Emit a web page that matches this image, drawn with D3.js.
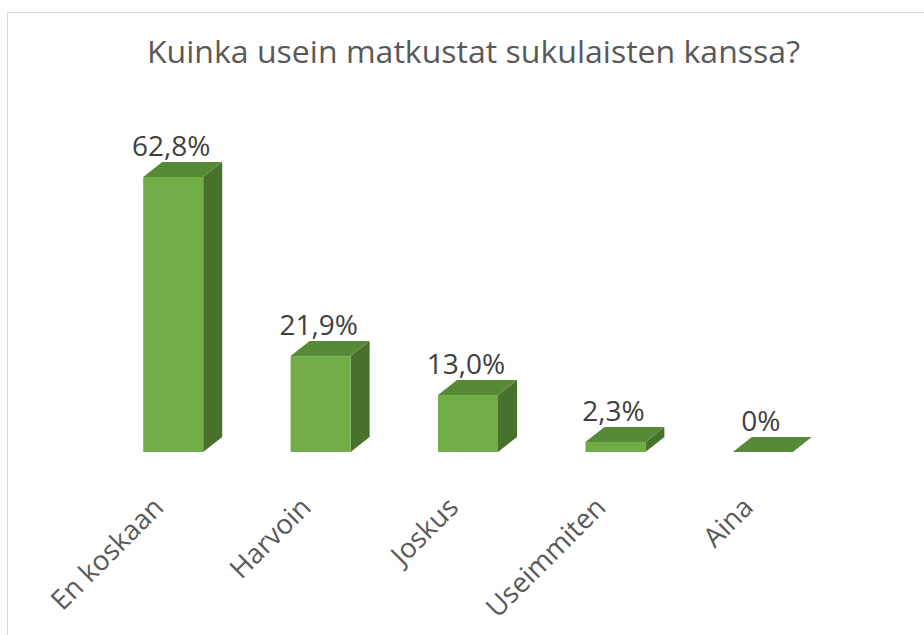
<!DOCTYPE html>
<html>
<head>
<meta charset="utf-8">
<script src="https://cdn.jsdelivr.net/npm/d3@7"></script>
<style>
  html, body { margin: 0; padding: 0; background: #ffffff; }
  svg { display: block; }
</style>
</head>
<body>
<script>
// ---- data ----
const title = "Kuinka usein matkustat sukulaisten kanssa?";
const categories = ["En koskaan", "Harvoin", "Joskus", "Useimmiten", "Aina"];
const values = [62.8, 21.9, 13.0, 2.3, 0];
const valueLabels = ["62,8%", "21,9%", "13,0%", "2,3%", "0%"];
const yDomain = [0, 70];

// ---- layout ----
const W = 924, H = 635;
const depthX = 19, depthY = 15;
const baseY = 452;

const svg = d3.select("body").append("svg")
  .attr("width", W).attr("height", H);

svg.append("rect").attr("width", W).attr("height", H).attr("fill", "#fff");

// chart area border (extends past the right and bottom edges)
svg.append("rect")
  .attr("x", 7.5).attr("y", 12.5)
  .attr("width", W + 20).attr("height", H + 20)
  .attr("fill", "none").attr("stroke", "#d9d9d9").attr("stroke-width", 1);

const x = d3.scaleBand()
  .domain(categories)
  .range([99.5, 836.5])
  .paddingInner(0.593)
  .paddingOuter(0.2965);

const y = d3.scaleLinear().domain(yDomain).range([baseY, baseY - 70 * 4.379]);

const font = "'Open Sans', 'Noto Sans', sans-serif";

// title
svg.append("text")
  .attr("x", 473.5).attr("y", 63)
  .attr("text-anchor", "middle")
  .attr("font-family", font)
  .attr("font-size", 31)
  .attr("textLength", 653)
  .attr("lengthAdjust", "spacingAndGlyphs")
  .attr("fill", "#595959")
  .text(title);

const data = categories.map((c, i) => ({ c, v: values[i], label: valueLabels[i] }));

const g = svg.append("g");

data.forEach(d => {
  const x0 = x(d.c), w = x.bandwidth();
  const x1 = x0 + w;
  const yt = y(d.v), yb = y(0);
  const bar = g.append("g");
  if (yb - yt > 0.5) {
    // side face
    bar.append("path")
      .attr("d", `M${x1},${yt}L${x1 + depthX},${yt - depthY}L${x1 + depthX},${yb - depthY}L${x1},${yb}Z`)
      .attr("fill", "#48722c");
    // front face
    bar.append("rect")
      .attr("x", x0).attr("y", yt).attr("width", w).attr("height", yb - yt)
      .attr("fill", "#70ad47");
  }
  // top face
  bar.append("path")
    .attr("d", `M${x0},${yt}L${x0 + depthX},${yt - depthY}L${x1 + depthX},${yt - depthY}L${x1},${yt}Z`)
    .attr("fill", "#578a37");

  // value label
  svg.append("text")
    .attr("x", x0 + w / 2 - 2)
    .attr("y", yt - depthY - 6)
    .attr("text-anchor", "middle")
    .attr("font-family", font)
    .attr("font-size", 28)
    .attr("fill", "#404040")
    .text(d.label);
});

// category axis labels (rotated)
svg.append("g").selectAll("text")
  .data(categories)
  .join("text")
  .attr("transform", c => `translate(${x(c) + x.bandwidth() / 2 - 8},${509}) rotate(-45)`)
  .attr("text-anchor", "end")
  .attr("font-family", font)
  .attr("font-size", 27.5)
  .attr("fill", "#595959")
  .text(c => c);
</script>
</body>
</html>
